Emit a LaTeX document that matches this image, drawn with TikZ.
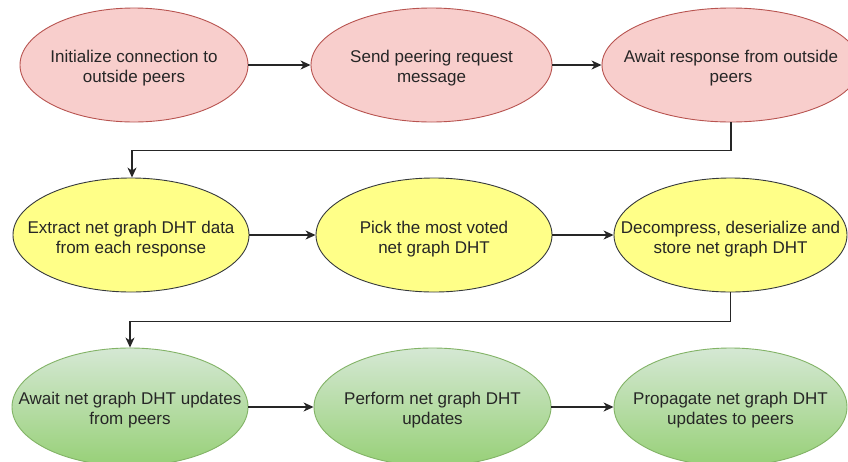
\documentclass[tikz,border=0pt]{standalone}
\usepackage{fontspec}
\setmainfont{Liberation Sans}
\usetikzlibrary{shapes.geometric,arrows.meta}
\definecolor{redfill}{HTML}{F8CECC}
\definecolor{redline}{HTML}{B85450}
\definecolor{yelfill}{HTML}{FFFF88}
\definecolor{yelline}{HTML}{36393D}
\definecolor{grntop}{HTML}{D5E8D4}
\definecolor{grnbot}{HTML}{97D077}
\definecolor{grnline}{HTML}{82B366}
\definecolor{ink}{HTML}{262626}
\tikzset{
  x=1pt, y=-1pt,
  stepshape/.style={ellipse, inner sep=0pt, line width=0.9pt},
  redstep/.style={stepshape, draw=redline, fill=redfill},
  yelstep/.style={stepshape, draw=yelline, fill=yelfill},
  grnstep/.style={stepshape, draw=grnline, top color=grntop, bottom color=grnbot},
  caption/.style={align=center, text=ink, font=\fontsize{17}{20}\selectfont, inner sep=0pt},
  flow/.style={draw=ink, line width=1.2pt, -{Stealth[length=10pt,width=9pt,inset=3pt]}}
}
\begin{document}
\begin{tikzpicture}
\clip (0,0) rectangle (848,461);
\fill[white] (0,0) rectangle (848,461);

% first row: connecting to the outside peers
\node[redstep, minimum width=228pt, minimum height=114pt] (e1) at (134,65) {};
\node[redstep, minimum width=241pt, minimum height=114pt] (e2) at (431.5,65) {};
\node[redstep, minimum width=258pt, minimum height=114pt] (e3) at (731,65) {};
\node[caption] (t1) at ([yshift=-3pt]e1.center) {Initialize connection to\\outside peers};
\node[caption] (t2) at ([yshift=-3pt]e2.center) {Send peering request\\message};
\node[caption] (t3) at ([yshift=-3pt]e3.center) {Await response from outside\\peers};

% second row: choosing and storing the DHT
\node[yelstep, minimum width=236pt, minimum height=114pt] (e4) at (131,235) {};
\node[yelstep, minimum width=236pt, minimum height=114pt] (e5) at (434,235) {};
\node[yelstep, minimum width=233pt, minimum height=114pt] (e6) at (730.5,235) {};
\node[caption] (t4) at ([yshift=-4pt]e4.center) {Extract net graph DHT data\\from each response};
\node[caption] (t5) at ([yshift=-4pt]e5.center) {Pick the most voted\\net graph DHT};
\node[caption] (t6) at ([yshift=-4pt]e6.center) {Decompress, deserialize and\\store net graph DHT};

% third row: keeping the DHT up to date
\node[grnstep, minimum width=236pt, minimum height=118pt] (e7) at (130,407) {};
\node[grnstep, minimum width=237pt, minimum height=118pt] (e8) at (432.5,407) {};
\node[grnstep, minimum width=233pt, minimum height=118pt] (e9) at (730.5,407) {};
\node[caption] (t7) at ([yshift=-3pt]e7.center) {Await net graph DHT updates\\from peers};
\node[caption] (t8) at ([yshift=-3pt]e8.center) {Perform net graph DHT\\updates};
\node[caption] (t9) at ([yshift=-3pt]e9.center) {Propagate net graph DHT\\updates to peers};

% connectors
\draw[flow] (e1) -- (e2);
\draw[flow] (e2) -- (e3);
\draw[flow] (e3.south) -- ++(0,28) -| ([xshift=1pt]e4.north);
\draw[flow] (e4) -- (e5);
\draw[flow] (e5) -- (e6);
\draw[flow] (e6.south) -- ++(0,29) -| (e7.north);
\draw[flow] (e7) -- (e8);
\draw[flow] (e8) -- (e9);
\end{tikzpicture}
\end{document}
